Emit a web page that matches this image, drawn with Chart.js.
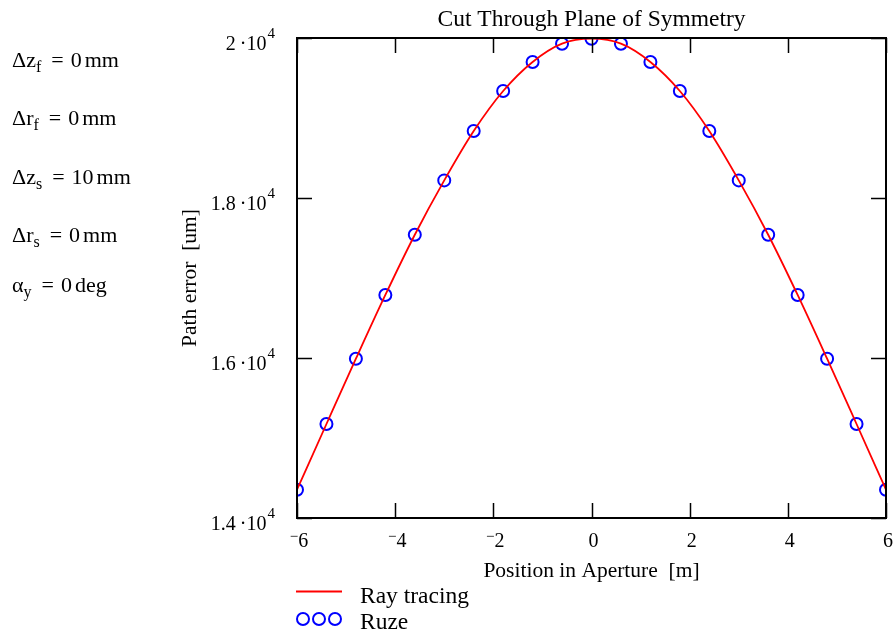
<!DOCTYPE html>
<html>
<head>
<meta charset="utf-8">
<title>Cut Through Plane of Symmetry</title>
<script src="https://cdn.jsdelivr.net/npm/chart.js@4.4.1/dist/chart.umd.min.js"></script>
<style>
  html, body { margin: 0; padding: 0; background: #fff; }
  #wrap { width: 896px; height: 637px; }
</style>
</head>
<body>
<div id="wrap"><canvas id="chart" width="896" height="637"></canvas></div>
<script>
// aperture positions [m]
const positions = [-6, -5.4, -4.8, -4.2, -3.6, -3, -2.4, -1.8, -1.2, -0.6, 0,
  0.6, 1.2, 1.8, 2.4, 3, 3.6, 4.2, 4.8, 5.4, 6]

// path error [um]
const rayTracing = [14354, 15175, 15991, 16788, 17541, 18220, 18837, 19337, 19700, 19929, 19991,
  19929, 19700, 19337, 18837, 18220, 17541, 16788, 15991, 15175, 14354]
const ruze = [14354, 15175, 15991, 16788, 17541, 18220, 18837, 19337, 19700, 19929, 19991,
  19929, 19700, 19337, 18837, 18220, 17541, 16788, 15991, 15175, 14354]

const xTicks = [-6, -4, -2, 0, 2, 4, 6]
const yTicks = [14000, 16000, 18000, 20000]
const yTickLabels = ['1.4', '1.6', '1.8', '2']
const yTickExponent = '4'

const params = [
  { sym: 'Δz', sub: 'f', value: '0', unit: 'mm' },
  { sym: 'Δr', sub: 'f', value: '0', unit: 'mm' },
  { sym: 'Δz', sub: 's', value: '10', unit: 'mm' },
  { sym: 'Δr', sub: 's', value: '0', unit: 'mm' },
  { sym: 'α', sub: 'y', value: '0', unit: 'deg' }
]

const FONT = '"Liberation Serif", "Times New Roman", serif'
const font = size => size + 'px ' + FONT

const toPoints = (xs, ys) => xs.map((x, i) => ({ x, y: ys[i] }))

// mathcad-like frame: box, inward ticks, labels, legend and side notes
const mathcadFrame = {
  id: 'mathcadFrame',
  afterDraw (chart) {
    const { ctx, chartArea: area, scales } = chart
    const { x: xScale, y: yScale } = scales
    const tickLen = 15
    const midX = (area.left + area.right) / 2
    const midY = (area.top + area.bottom) / 2

    ctx.save()
    ctx.strokeStyle = '#000'
    ctx.fillStyle = '#000'
    ctx.lineWidth = 2
    ctx.strokeRect(area.left, area.top, area.right - area.left, area.bottom - area.top)

    ctx.lineWidth = 1.5
    ctx.beginPath()
    xTicks.forEach(v => {
      const px = Math.round(xScale.getPixelForValue(v)) + 0.5
      ctx.moveTo(px, area.bottom)
      ctx.lineTo(px, area.bottom - tickLen)
      ctx.moveTo(px, area.top)
      ctx.lineTo(px, area.top + tickLen)
    })
    yTicks.forEach(v => {
      const py = Math.round(yScale.getPixelForValue(v)) + 0.5
      ctx.moveTo(area.left, py)
      ctx.lineTo(area.left + tickLen, py)
      ctx.moveTo(area.right, py)
      ctx.lineTo(area.right - tickLen, py)
    })
    ctx.stroke()

    // x tick labels, with the raised mathcad minus
    ctx.textBaseline = 'alphabetic'
    xTicks.forEach(v => {
      const px = xScale.getPixelForValue(v) + 2
      const digits = String(Math.abs(v))
      ctx.font = font(20)
      const dw = ctx.measureText(digits).width
      if (v < 0) {
        ctx.font = font(15)
        const mw = ctx.measureText('−').width
        const start = px - (dw + mw) / 2
        ctx.textAlign = 'left'
        ctx.fillText('−', start, area.bottom + 23)
        ctx.font = font(20)
        ctx.fillText(digits, start + mw, area.bottom + 29)
      } else {
        ctx.textAlign = 'center'
        ctx.fillText(digits, px, area.bottom + 29)
      }
    })

    // y tick labels: mantissa ·10 with superscript exponent
    const labelRight = 275
    yTicks.forEach((v, i) => {
      const py = yScale.getPixelForValue(v)
      ctx.textAlign = 'right'
      ctx.font = font(15)
      const ew = ctx.measureText(yTickExponent).width
      ctx.fillText(yTickExponent, labelRight, py)
      ctx.font = font(20)
      ctx.fillText(yTickLabels[i] + '\u2009·10', labelRight - ew - 1, py + 12)
    })

    // titles
    ctx.textAlign = 'center'
    ctx.font = font(23.5)
    ctx.fillText('Cut Through Plane of Symmetry', midX, 26)
    ctx.font = font(21.5)
    ctx.fillText('Position in Aperture  [m]', midX, 577)

    ctx.save()
    ctx.translate(196, midY)
    ctx.rotate(-Math.PI / 2)
    ctx.fillText('Path error  [um]', 0, 0)
    ctx.restore()

    // legend
    const [lineSet, markSet] = chart.data.datasets
    ctx.textAlign = 'left'
    ctx.font = font(23.5)
    ctx.strokeStyle = lineSet.borderColor
    ctx.lineWidth = 1.8
    ctx.beginPath()
    ctx.moveTo(296, 591.5)
    ctx.lineTo(342, 591.5)
    ctx.stroke()
    ctx.fillText(lineSet.label, 360, 603)

    ctx.strokeStyle = markSet.borderColor
    ctx.lineWidth = 2
    ;[303, 319, 335].forEach(cx => {
      ctx.beginPath()
      ctx.arc(cx, 619, 6, 0, Math.PI * 2)
      ctx.stroke()
    })
    ctx.fillText(markSet.label, 360, 629)

    // parameter notes on the left
    const baselines = [67, 125, 184, 242, 292]
    params.forEach((p, i) => {
      const y = baselines[i]
      let x = 12
      ctx.font = font(22)
      ctx.fillText(p.sym, x, y)
      x += ctx.measureText(p.sym).width
      ctx.font = font(16)
      ctx.fillText(p.sub, x, y + 5)
      x += ctx.measureText(p.sub).width + 10
      ctx.font = font(22)
      ctx.fillText('=', x, y)
      x += ctx.measureText('=').width + 7
      ctx.fillText(p.value, x, y)
      x += ctx.measureText(p.value).width + 3
      ctx.fillText(p.unit, x, y)
    })

    ctx.restore()
  }
}

const config = {
  type: 'scatter',
  data: {
    datasets: [
      {
        label: 'Ray tracing',
        data: toPoints(positions, rayTracing),
        showLine: true,
        borderColor: '#ff0000',
        borderWidth: 1.8,
        pointRadius: 0,
        cubicInterpolationMode: 'monotone',
        clip: 0
      },
      {
        label: 'Ruze',
        data: toPoints(positions, ruze),
        showLine: false,
        pointStyle: 'circle',
        pointRadius: 6,
        pointBorderWidth: 2,
        borderColor: '#0000ff',
        backgroundColor: 'rgba(0,0,0,0)',
        clip: 0
      }
    ]
  },
  options: {
    responsive: false,
    animation: false,
    layout: { padding: { left: 297, right: 10, top: 38, bottom: 119 } },
    scales: {
      x: { type: 'linear', min: -6, max: 6, display: false },
      y: { type: 'linear', min: 14000, max: 20000, display: false }
    },
    plugins: {
      legend: { display: false },
      tooltip: { enabled: false }
    }
  },
  plugins: [mathcadFrame]
}

new Chart(document.getElementById('chart').getContext('2d'), config)
</script>
</body>
</html>
